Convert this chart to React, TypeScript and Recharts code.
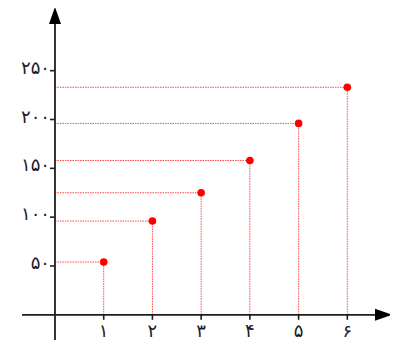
import React from 'react';
import { ScatterChart, Scatter, XAxis, YAxis, ReferenceLine, ReferenceDot } from 'recharts';

const xValues = [1, 2, 3, 4, 5, 6];
const yValues = [54, 96, 125, 158, 196, 233];
const xTickLabels = ['۱', '۲', '۳', '۴', '۵', '۶'];
const yTicks = [50, 100, 150, 200, 250];
const yTickLabels = ['۵۰', '۱۰۰', '۱۵۰', '۲۰۰', '۲۵۰'];

const X_MIN = -0.677;
const X_MAX = 6.568;
const Y_MIN = -25.8;
const Y_MAX = 297.8;

const points = xValues.map((x, i) => ({ x, y: yValues[i] }));

const AXIS_COLOR = '#1e1e1e';
const GUIDE_COLOR = '#ff4a4a';
const FONT = '"DejaVu Sans", sans-serif';

const XTick = (label: string) => (props: any) => {
  const { cx, cy } = props;
  return (
    <g>
      <line x1={cx} y1={cy} x2={cx} y2={cy + 5} stroke={AXIS_COLOR} strokeWidth={1.6} />
      <text x={cx} y={cy + 22} textAnchor="middle" fontSize={18} fontFamily={FONT} fill="#1a1a2a">
        {label}
      </text>
    </g>
  );
};

const YTick = (label: string) => (props: any) => {
  const { cx, cy } = props;
  return (
    <g>
      <line x1={cx - 5} y1={cy} x2={cx} y2={cy} stroke={AXIS_COLOR} strokeWidth={1.6} />
      <text x={cx - 5} y={cy + 3} textAnchor="end" fontSize={18} fontFamily={FONT} fill="#1a1a2a">
        {label}
      </text>
    </g>
  );
};

const RightArrow = (props: any) => {
  const { cx, cy } = props;
  return <polygon points={`${cx},${cy - 6} ${cx + 17},${cy} ${cx},${cy + 6}`} fill="#000" />;
};

const UpArrow = (props: any) => {
  const { cx, cy } = props;
  return <polygon points={`${cx - 6},${cy} ${cx},${cy - 17} ${cx + 6},${cy}`} fill="#000" />;
};

const Dot = (props: any) => {
  const { cx, cy } = props;
  return <circle cx={cx} cy={cy} r={3.8} fill="#ff0000" />;
};

export default function App() {
  return (
    <ScatterChart width={390} height={344} margin={{ top: 16, right: 23, bottom: 12, left: 14 }}>
      <XAxis type="number" dataKey="x" domain={[X_MIN, X_MAX]} allowDataOverflow hide />
      <YAxis type="number" dataKey="y" domain={[Y_MIN, Y_MAX]} allowDataOverflow hide />
      {points.map((p, i) => (
        <ReferenceLine
          key={`h${i}`}
          segment={[{ x: 0, y: p.y }, { x: p.x, y: p.y }]}
          stroke={GUIDE_COLOR}
          strokeWidth={1}
          strokeDasharray="1.5 1"
          ifOverflow="visible"
        />
      ))}
      {points.map((p, i) => (
        <ReferenceLine
          key={`v${i}`}
          segment={[{ x: p.x, y: 0 }, { x: p.x, y: p.y }]}
          stroke={GUIDE_COLOR}
          strokeWidth={1}
          strokeDasharray="1.5 1"
          ifOverflow="visible"
        />
      ))}
      <ReferenceLine
        segment={[{ x: X_MIN, y: 0 }, { x: X_MAX, y: 0 }]}
        stroke={AXIS_COLOR}
        strokeWidth={1.8}
        ifOverflow="visible"
      />
      <ReferenceLine
        segment={[{ x: 0, y: Y_MIN }, { x: 0, y: Y_MAX }]}
        stroke={AXIS_COLOR}
        strokeWidth={1.8}
        ifOverflow="visible"
      />
      {xValues.map((x, i) => (
        <ReferenceDot key={`xt${i}`} x={x} y={0} ifOverflow="visible" shape={XTick(xTickLabels[i])} />
      ))}
      {yTicks.map((y, i) => (
        <ReferenceDot key={`yt${i}`} x={0} y={y} ifOverflow="visible" shape={YTick(yTickLabels[i])} />
      ))}
      <ReferenceDot x={X_MAX} y={0} ifOverflow="visible" shape={RightArrow} />
      <ReferenceDot x={0} y={Y_MAX} ifOverflow="visible" shape={UpArrow} />
      <Scatter data={points} shape={Dot} isAnimationActive={false} />
    </ScatterChart>
  );
}
